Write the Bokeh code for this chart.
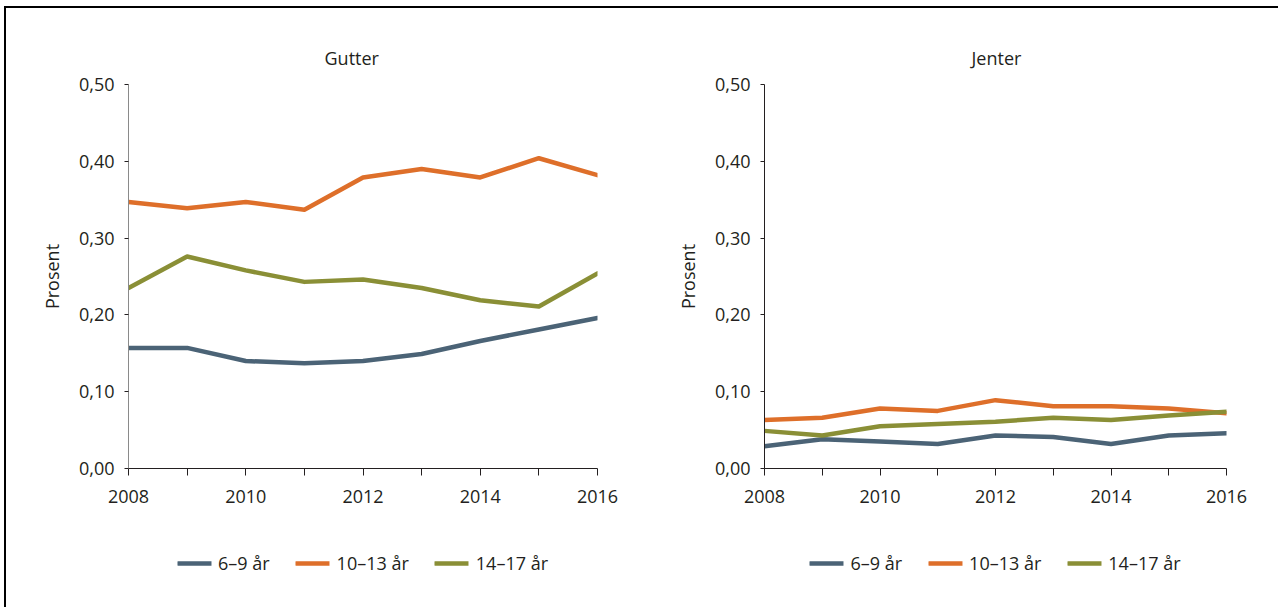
from bokeh.plotting import figure
from bokeh.layouts import row, column
from bokeh.models import FixedTicker, CustomJSTickFormatter, Range1d, Legend, LegendItem
from bokeh.embed import file_html
from bokeh.resources import INLINE

years = [2008, 2009, 2010, 2011, 2012, 2013, 2014, 2015, 2016]
series_names = ["6–9 år", "10–13 år", "14–17 år"]
colors = ["#4b6376", "#de6f2a", "#8a8f36"]

gutter_6_9 = [0.157, 0.157, 0.140, 0.137, 0.140, 0.149, 0.166, 0.181, 0.196]
gutter_10_13 = [0.347, 0.339, 0.347, 0.337, 0.379, 0.390, 0.379, 0.404, 0.382]
gutter_14_17 = [0.235, 0.276, 0.258, 0.243, 0.246, 0.235, 0.219, 0.211, 0.254]

jenter_6_9 = [0.029, 0.038, 0.035, 0.032, 0.043, 0.041, 0.032, 0.043, 0.046]
jenter_10_13 = [0.063, 0.066, 0.078, 0.075, 0.089, 0.081, 0.081, 0.078, 0.072]
jenter_14_17 = [0.049, 0.043, 0.055, 0.058, 0.061, 0.066, 0.063, 0.069, 0.074]

y_ticks = [0.0, 0.1, 0.2, 0.3, 0.4, 0.5]
x_major = [2008, 2010, 2012, 2014, 2016]
x_minor = [2009, 2011, 2013, 2015]

FONT = "Open Sans"
TXT = "#231f20"


def make_panel(title, data, frame_w, mb_left, mb_right, yaxis_color, title_offset):
    p = figure(frame_width=frame_w, frame_height=384,
               min_border_left=mb_left, min_border_right=mb_right,
               min_border_top=76, min_border_bottom=50,
               x_range=Range1d(2008, 2016), y_range=Range1d(0, 0.5),
               output_backend="svg", toolbar_location=None,
               title=title)
    p.outline_line_color = None
    p.xgrid.visible = False
    p.ygrid.visible = False
    p.background_fill_color = "white"
    p.border_fill_color = "white"

    p.title.align = "left"
    p.title.text_font = FONT
    p.title.text_font_size = "18px"
    p.title.text_font_style = "normal"
    p.title.text_color = TXT
    p.title.standoff = 30
    p.title.offset = title_offset

    xa = p.xaxis[0]
    xa.ticker = FixedTicker(ticks=x_major, minor_ticks=x_minor)
    xa.formatter = CustomJSTickFormatter(code="return String(tick);")
    xa.axis_line_color = "#231f20"
    xa.major_tick_line_color = "#231f20"
    xa.minor_tick_line_color = "#231f20"
    xa.major_tick_in = 0
    xa.major_tick_out = 7
    xa.minor_tick_in = 0
    xa.minor_tick_out = 7
    xa.major_label_text_font = FONT
    xa.major_label_text_font_size = "18px"
    xa.major_label_text_color = TXT
    xa.major_label_standoff = 14

    ya = p.yaxis[0]
    ya.ticker = FixedTicker(ticks=y_ticks, minor_ticks=[])
    ya.formatter = CustomJSTickFormatter(code="return tick.toFixed(2).replace('.', ',');")
    ya.axis_line_color = yaxis_color
    ya.major_tick_line_color = "#231f20"
    ya.major_tick_in = 0
    ya.major_tick_out = 4
    ya.minor_tick_out = 0
    ya.minor_tick_in = 0
    ya.major_label_text_font = FONT
    ya.major_label_text_font_size = "18px"
    ya.major_label_text_color = TXT
    ya.major_label_standoff = 10
    ya.axis_label = "Prosent"
    ya.axis_label_text_font = FONT
    ya.axis_label_text_font_size = "18px"
    ya.axis_label_text_font_style = "normal"
    ya.axis_label_text_color = TXT
    ya.axis_label_standoff = 12

    for vals, col in zip(data, colors):
        p.line(years, vals, line_color=col, line_width=4.5,
               line_cap="round", line_join="round")

    # legend strip under the chart (its lines fall outside its own ranges, so only the legend shows)
    lf = figure(frame_width=frame_w, frame_height=89,
                min_border_left=mb_left, min_border_right=mb_right,
                min_border_top=0, min_border_bottom=0,
                x_range=Range1d(0, 1), y_range=Range1d(0, 1),
                output_backend="svg", toolbar_location=None)
    lf.axis.visible = False
    lf.grid.visible = False
    lf.outline_line_color = None
    lf.background_fill_color = "white"
    lf.border_fill_color = "white"
    items = []
    for name, vals, col in zip(series_names, data, colors):
        r = lf.line(years, vals, line_color=col, line_width=4.5, line_cap="round")
        items.append(LegendItem(label=name, renderers=[r]))
    lg = Legend(items=items, location="center", orientation="horizontal")
    lg.border_line_color = None
    lg.background_fill_alpha = 0
    lg.padding = 0
    lg.margin = 0
    lg.spacing = 26
    lg.glyph_width = 34
    lg.glyph_height = 20
    lg.label_standoff = 7
    lg.label_text_font = FONT
    lg.label_text_font_size = "18px"
    lg.label_text_color = TXT
    lf.add_layout(lg, "center")
    return column(p, lf, spacing=0)


c1 = make_panel("Gutter", [gutter_6_9, gutter_10_13, gutter_14_17], 469, 122, 43, "#8a8a8a", 196)
c2 = make_panel("Jenter", [jenter_6_9, jenter_10_13, jenter_14_17], 462, 124, 52, "#231f20", 207)

layout = row(c1, c2, spacing=0, margin=(6, 0, 0, 4),
             styles={"border-top": "2px solid black", "border-left": "2px solid black"})

open("out.html", "w").write(file_html(layout, INLINE))
